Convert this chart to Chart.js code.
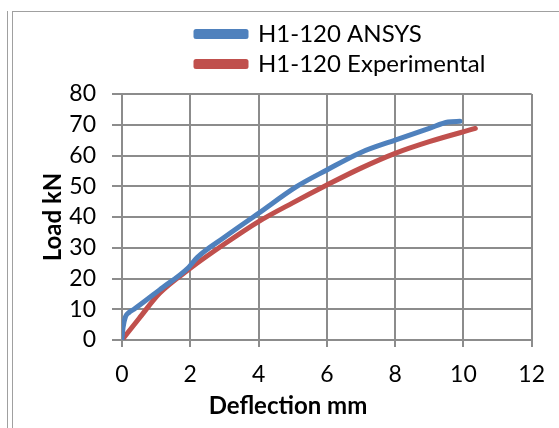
<!DOCTYPE html>
<html>
<head>
<meta charset="utf-8">
<title>H1-120 Load vs Deflection</title>
<script src="https://cdn.jsdelivr.net/npm/chart.js@4.4.1/dist/chart.umd.min.js"></script>
<style>
    html, body { margin: 0; padding: 0; background: #fff; }
    #wrap { position: relative; width: 559px; height: 428px; overflow: hidden; }
    .frame { position: absolute; background: #a0a0a0; }
    #chart { position: absolute; left: 0; top: 0; }
</style>
</head>
<body>
<div id="wrap">
    <div class="frame" style="left:7px; top:11px; width:1px; height:417px;"></div>
    <div class="frame" style="left:12px; top:11px; width:1px; height:417px;"></div>
    <div class="frame" style="left:12px; top:11px; width:547px; height:1px;"></div>
    <canvas id="chart" width="559" height="428"></canvas>
</div>
<script>
// values
const ansysDeflection = [0, 0.03, 0.1, 0.2, 0.35, 1.1, 1.95, 2.2, 3.0, 4.0, 5.1, 6.0, 7.0, 8.0, 9.0, 9.55, 9.9];
const ansysLoad       = [0.5, 4, 7.5, 8.9, 10, 16.3, 23.6, 26.8, 33.4, 41.2, 49.8, 55.3, 61, 65, 68.8, 70.9, 71.1];

const expDeflection = [0, 0.5, 1.1, 2.0, 3.0, 4.0, 5.0, 6.0, 7.0, 8.0, 9.0, 10.35];
const expLoad       = [0, 7, 15.2, 23.3, 31.2, 38.5, 44.6, 50.4, 55.9, 60.7, 64.5, 68.8];

const xTicks = [0, 2, 4, 6, 8, 10, 12];
const yTicks = [0, 10, 20, 30, 40, 50, 60, 70, 80];

const toPoints = (xs, ys) => xs.map((x, i) => ({ x: x, y: ys[i] }));

const FONT = 'Lato';
const gridColor = '#8c8c8c';

// Excel puts the legend block off to the right, both rows left-aligned,
// and a bit higher than the gap above the plot would give
const legendShift = {
    id: 'legendShift',
    afterLayout(chart) {
        const lg = chart.legend;
        lg.left += 68;
        lg.right += 68;
        lg.top -= 8;
        lg.bottom -= 8;
    }
};

const ctx = document.getElementById('chart').getContext('2d');
new Chart(ctx, {
    type: 'scatter',
    data: {
        datasets: [
            {
                label: 'H1-120 ANSYS',
                data: toPoints(ansysDeflection, ansysLoad),
                showLine: true,
                borderColor: '#4f81bd',
                backgroundColor: '#4f81bd',
                borderWidth: 5,
                borderCapStyle: 'round',
                borderJoinStyle: 'round',
                cubicInterpolationMode: 'monotone',
                pointRadius: 0
            },
            {
                label: 'H1-120 Experimental',
                data: toPoints(expDeflection, expLoad),
                showLine: true,
                borderColor: '#c0504d',
                backgroundColor: '#c0504d',
                borderWidth: 5,
                borderCapStyle: 'round',
                borderJoinStyle: 'round',
                cubicInterpolationMode: 'monotone',
                pointRadius: 0
            }
        ]
    },
    options: {
        responsive: false,
        animation: false,
        layout: {
            padding: { left: 39, right: 22, top: 24, bottom: 0 }
        },
        plugins: {
            legend: {
                display: true,
                position: 'top',
                align: 'start',
                fullSize: false,
                labels: {
                    color: '#000',
                    boxWidth: 50,
                    boxHeight: 5,
                    padding: 6,
                    font: { family: FONT, size: 24 }
                }
            },
            title: {
                display: true,
                position: 'bottom',
                text: 'Deflection mm',
                color: '#000',
                padding: { top: 0, bottom: 7 },
                font: { family: FONT, size: 24, weight: 'bold', lineHeight: 1.2 }
            },
            tooltip: { enabled: false }
        },
        scales: {
            x: {
                type: 'linear',
                min: 0,
                max: 12,
                afterBuildTicks: (scale) => { scale.ticks = xTicks.map(v => ({ value: v })); },
                afterFit: (scale) => { scale.height = 52.2; },
                grid: {
                    color: gridColor,
                    lineWidth: 2,
                    tickLength: 7
                },
                border: { color: gridColor, width: 2 },
                ticks: {
                    color: '#000',
                    padding: 14,
                    maxRotation: 0,
                    font: { family: FONT, size: 23 }
                }
            },
            y: {
                type: 'linear',
                min: 0,
                max: 80,
                afterBuildTicks: (scale) => { scale.ticks = yTicks.map(v => ({ value: v })); },
                afterFit: (scale) => { scale.width = 83; },
                grid: {
                    color: gridColor,
                    lineWidth: 2,
                    tickLength: 10
                },
                border: { color: gridColor, width: 2 },
                ticks: {
                    color: '#000',
                    padding: 16,
                    font: { family: FONT, size: 23 }
                },
                title: {
                    display: true,
                    text: 'Load kN',
                    color: '#000',
                    padding: 0,
                    font: { family: FONT, size: 24, weight: 'bold', lineHeight: 1.2 }
                }
            }
        }
    },
    plugins: [legendShift]
});
</script>
</body>
</html>
